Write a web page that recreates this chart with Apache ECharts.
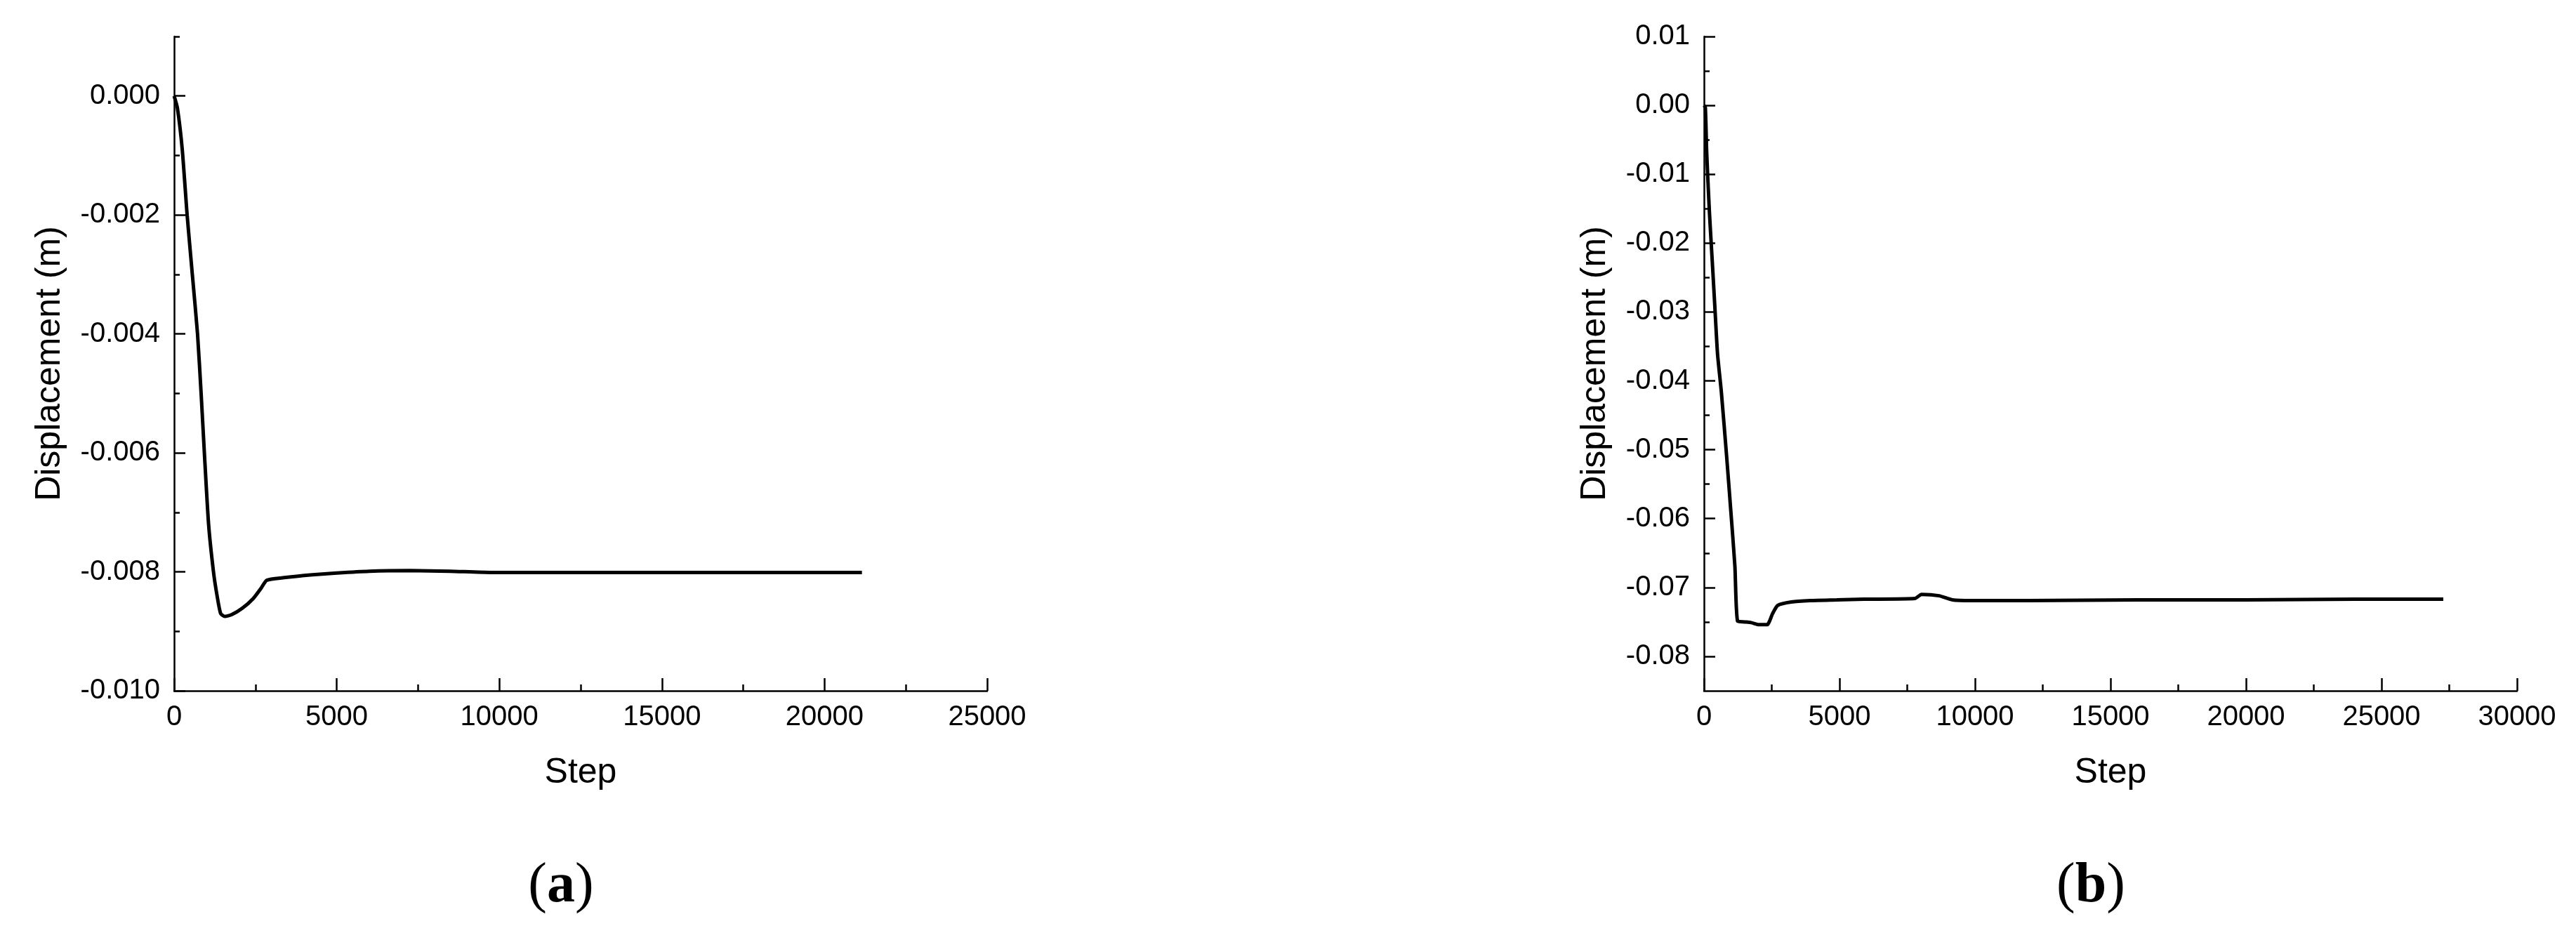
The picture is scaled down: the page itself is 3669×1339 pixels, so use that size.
<!DOCTYPE html>
<html>
<head>
<meta charset="utf-8">
<script src="https://cdn.jsdelivr.net/npm/echarts@6/dist/echarts.min.js"></script>
<style>
  html, body { margin: 0; padding: 0; background: #fff; }
  #chart { width: 3669px; height: 1339px; }
</style>
</head>
<body>
<div id="chart"></div>
<script>
// panel (a): displacement vs step
const STEPS_A = [0, 100, 250, 400, 560, 720, 830, 930, 1060, 1210, 1320, 1430, 1560, 1770, 2100, 2430, 2680, 2850, 3340, 4250, 5000, 6000, 7240, 8480, 9730, 12000, 15000, 18000, 21150];
const DISP_A = [0, -0.0002, -0.0009, -0.002, -0.003, -0.004, -0.005, -0.006, -0.0072, -0.008, -0.0084, -0.0087, -0.00875, -0.00872, -0.00861, -0.00845, -0.00827, -0.00814, -0.0081, -0.00805, -0.00802, -0.00799, -0.00798, -0.00799, -0.00801, -0.00801, -0.00801, -0.00801, -0.00801];

// panel (b)
const STEPS_B = [0, 50, 100, 200, 300, 400, 500, 640, 840, 990, 1140, 1240, 1500, 1740, 2030, 2330, 2530, 2720, 3220, 3920, 4900, 5900, 7780, 8030, 8670, 9170, 9860, 12000, 16000, 20000, 24000, 27280];
const DISP_B = [0, -0.0003, -0.0069, -0.0155, -0.0223, -0.0292, -0.0361, -0.0416, -0.0512, -0.0589, -0.0669, -0.0749, -0.075, -0.0751, -0.0754, -0.0754, -0.0738, -0.0726, -0.0721, -0.0719, -0.0718, -0.0717, -0.0716, -0.071, -0.0712, -0.0718, -0.0719, -0.0719, -0.0718, -0.0718, -0.0717, -0.0717];

// ticks
const X_MAJOR_A = [0, 5000, 10000, 15000, 20000, 25000];
const X_MINOR_A = [2500, 7500, 12500, 17500, 22500];
const Y_MAJOR_A = [-0.010, -0.008, -0.006, -0.004, -0.002, 0.000];
const Y_MINOR_A = [-0.009, -0.007, -0.005, -0.003, -0.001, 0.001];

const X_MAJOR_B = [0, 5000, 10000, 15000, 20000, 25000, 30000];
const X_MINOR_B = [2500, 7500, 12500, 17500, 22500, 27500];
const Y_MAJOR_B = [-0.08, -0.07, -0.06, -0.05, -0.04, -0.03, -0.02, -0.01, 0.00, 0.01];
const Y_MINOR_B = [-0.075, -0.065, -0.055, -0.045, -0.035, -0.025, -0.015, -0.005, 0.005];

const chart = echarts.init(document.getElementById('chart'));

const FONT = 'Liberation Sans, Arial, sans-serif';
const SERIF = 'Liberation Serif, Times New Roman, serif';
const black = '#000';

// main axis (line + long ticks + labels) and an overlay with short ticks only
function xAxes(grid, max, major, minor) {
  return [
    {
      type: 'value', gridIndex: grid, position: 'bottom', min: 0, max: max,
      name: 'Step', nameLocation: 'middle', nameGap: 92,
      nameTextStyle: { fontFamily: FONT, fontSize: 50, color: black },
      axisLine: { show: true, onZero: false, lineStyle: { color: black, width: 2.5 } },
      axisTick: { show: true, inside: true, length: 18, customValues: major, lineStyle: { color: black, width: 2.5 } },
      axisLabel: { customValues: major, margin: 18, fontFamily: FONT, fontSize: 40, color: black,
        formatter: v => String(v) },
      splitLine: { show: false }
    },
    {
      type: 'value', gridIndex: grid, position: 'bottom', min: 0, max: max,
      axisLine: { show: false, onZero: false },
      axisTick: { show: true, inside: true, length: 9, customValues: minor, lineStyle: { color: black, width: 2.5 } },
      axisLabel: { show: false },
      splitLine: { show: false }
    }
  ];
}

function yAxes(grid, min, max, major, minor, digits, gap) {
  return [
    {
      type: 'value', gridIndex: grid, position: 'left', min: min, max: max,
      name: 'Displacement (m)', nameLocation: 'middle', nameGap: gap,
      nameTextStyle: { fontFamily: FONT, fontSize: 50, color: black },
      axisLine: { show: true, onZero: false, lineStyle: { color: black, width: 2.5 } },
      axisTick: { show: true, inside: true, length: 16, customValues: major, lineStyle: { color: black, width: 2.5 } },
      axisLabel: { customValues: major, margin: 20, fontFamily: FONT, fontSize: 40, color: black,
        formatter: v => v.toFixed(digits) },
      splitLine: { show: false }
    },
    {
      type: 'value', gridIndex: grid, position: 'left', min: min, max: max,
      axisLine: { show: false, onZero: false },
      axisTick: { show: true, inside: true, length: 8, customValues: minor, lineStyle: { color: black, width: 2.5 } },
      axisLabel: { show: false },
      splitLine: { show: false }
    }
  ];
}

function panelTitle(letter, x) {
  return {
    text: '{p|(}{b|' + letter + '}{p|)}', left: x, top: 1218, textAlign: 'center',
    textStyle: { rich: {
      p: { fontFamily: SERIF, fontSize: 80, fontWeight: 'normal', color: black },
      b: { fontFamily: SERIF, fontSize: 80, fontWeight: 'bold', color: black }
    } }
  };
}

const option = {
  backgroundColor: '#fff',
  animation: false,
  title: [panelTitle('a', 794), panelTitle('b', 2973)],
  grid: [
    { left: 248, top: 52, width: 1158, height: 932 },
    { left: 2427, top: 52, width: 1158, height: 932 }
  ],
  xAxis: [
    ...xAxes(0, 25000, X_MAJOR_A, X_MINOR_A),
    ...xAxes(1, 30000, X_MAJOR_B, X_MINOR_B)
  ],
  yAxis: [
    ...yAxes(0, -0.010, 0.001, Y_MAJOR_A, Y_MINOR_A, 3, 152),
    ...yAxes(1, -0.085, 0.01, Y_MAJOR_B, Y_MINOR_B, 2, 130)
  ],
  series: [
    {
      type: 'line', xAxisIndex: 0, yAxisIndex: 0,
      data: STEPS_A.map((s, i) => [s, DISP_A[i]]),
      showSymbol: false, smooth: 0.2,
      lineStyle: { color: black, width: 5 }
    },
    {
      type: 'line', xAxisIndex: 2, yAxisIndex: 2,
      data: STEPS_B.map((s, i) => [s, DISP_B[i]]),
      showSymbol: false, smooth: 0.2,
      lineStyle: { color: black, width: 5 }
    }
  ]
};

chart.setOption(option);
window.addEventListener('resize', () => chart.resize());
</script>
</body>
</html>
